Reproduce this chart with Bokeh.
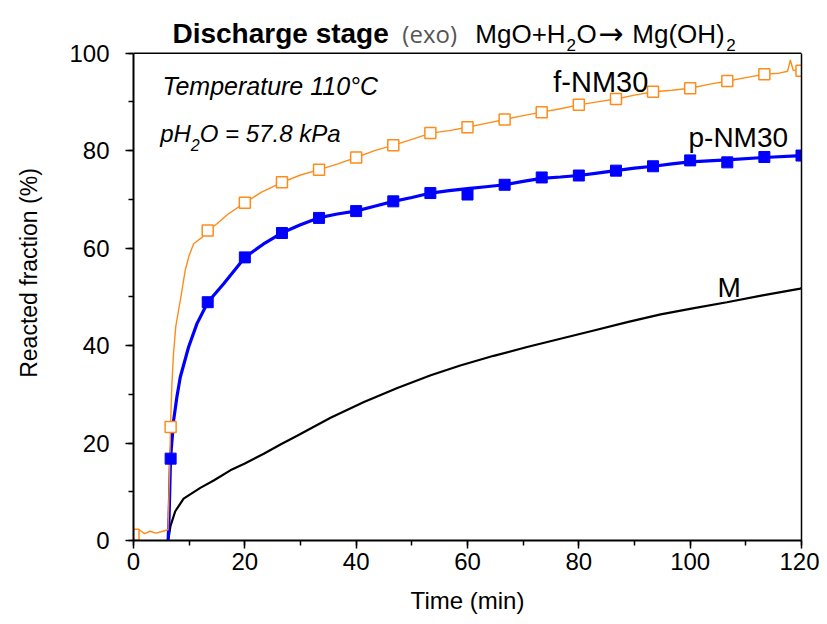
from bokeh.plotting import figure
from bokeh.models import Label, Range1d, SingleIntervalTicker, FixedTicker, LinearAxis, Span
from bokeh.embed import file_html
from bokeh.resources import INLINE

# ---- data ----
# f-NM30 (orange line)
f_t = [0, 1, 2, 3, 4, 5, 6.2, 6.5, 6.65, 6.9, 7.2, 7.6, 8.4, 9.3, 10.0, 10.8, 12.3, 13.35, 15, 17, 20,
       23, 26.7, 30, 33.4, 36.7, 40, 43.3, 46.6, 50, 53.4, 56.7, 60, 63.3, 66.7, 70, 73.3, 76.7, 80,
       83.3, 86.7, 90, 93.5, 96.7, 100, 103.3, 106.8, 110, 113.4, 116, 117.5, 118, 118.5, 120]
f_y = [1.5, 2.2, 1.4, 1.9, 1.5, 1.8, 2.2, 15, 23.3, 32.2, 38.5, 44.0, 49.2, 55.5, 58.5, 60.9, 62.2, 63.6, 65.0, 67.0, 69.3,
       71.5, 73.5, 75.0, 76.1, 77.3, 78.6, 80.0, 81.1, 82.3, 83.6, 84.1, 84.8, 85.6, 86.4, 87.2, 87.9, 88.6, 89.4,
       90.0, 90.6, 91.4, 92.1, 92.4, 92.8, 93.6, 94.3, 95.0, 95.7, 95.9, 96.3, 98.6, 96.5, 96.4]
# f-NM30 markers
fm_t = [0, 6.67, 13.33, 20, 26.67, 33.33, 40, 46.67, 53.33, 60, 66.67, 73.33, 80, 86.67, 93.33, 100, 106.67, 113.33, 120]
fm_y = [1.2, 23.3, 63.6, 69.3, 73.5, 76.1, 78.6, 81.1, 83.6, 84.8, 86.4, 87.9, 89.4, 90.6, 92.1, 92.8, 94.3, 95.7, 96.4]

# p-NM30 (blue line)
p_t = [0, 1, 2, 3, 4, 5, 6.2, 6.4, 6.65, 7.2, 7.8, 8.4, 9.9, 11.4, 13.35, 16.2, 20, 23.3, 26.6, 30, 33.2, 36.6,
       39.9, 43.3, 46.7, 50, 53.4, 56.7, 60, 63.3, 66.7, 70, 73.3, 76.7, 80, 83.3, 86.6, 90, 93.4, 96.7,
       100, 106.6, 113.2, 120]
p_y = [-0.6, -0.3, -0.7, -0.4, -0.6, -0.3, -0.5, 5.0, 16.8, 24.6, 29.5, 33.5, 39.7, 44.5, 48.9, 52.7, 58.1, 60.8, 63.1, 64.8, 66.2, 67.0,
       67.6, 68.6, 69.6, 70.4, 71.3, 71.8, 72.2, 72.6, 73.0, 73.7, 74.3, 74.6, 74.9, 75.4, 75.9, 76.4, 76.8, 77.3,
       77.7, 78.1, 78.6, 79.0]
pm_t = [0, 6.67, 13.33, 20, 26.67, 33.33, 40, 46.67, 53.33, 60, 66.67, 73.33, 80, 86.67, 93.33, 100, 106.67, 113.33, 120]
pm_y = [-0.8, 16.8, 48.9, 58.1, 63.1, 66.2, 67.6, 69.6, 71.3, 71.0, 73.0, 74.5, 74.9, 75.9, 76.8, 78.0, 77.6, 78.7, 79.0]

# M (black line)
m_t = [6.3, 6.65, 7.5, 9, 12, 14.4, 17.4, 20, 23.4, 26.4, 29.4, 35.4, 41.4, 47.4, 53.4, 58.7, 64.7, 70.7,
       76.7, 82.7, 88.7, 94.7, 100.7, 106.6, 113, 119.8, 120]
m_y = [0.5, 3.0, 6.0, 8.6, 10.8, 12.3, 14.4, 15.8, 17.8, 19.7, 21.5, 25.2, 28.4, 31.3, 33.9, 35.9, 37.9, 39.7,
       41.4, 43.1, 44.8, 46.4, 47.7, 48.9, 50.3, 51.7, 51.8]

x_ticks_interval = 20
y_ticks_interval = 20

FONT = "Liberation Sans"
PX_PER_UNIT = 4.873  # vertical scale of the reference

p = figure(width=819, height=622, output_backend="svg", toolbar_location=None,
           x_range=Range1d(0, 120), y_range=Range1d(0, 535 / PX_PER_UNIT),
           min_border_left=133, min_border_right=18, min_border_top=5, min_border_bottom=82)

p.grid.visible = False
p.outline_line_color = None
p.background_fill_color = "white"
p.border_fill_color = "white"

p.xaxis.ticker = SingleIntervalTicker(interval=x_ticks_interval, num_minor_ticks=2)
p.yaxis.ticker = SingleIntervalTicker(interval=y_ticks_interval, num_minor_ticks=2)
p.yaxis.bounds = (0, 100)
for ax in (p.xaxis[0], p.yaxis[0]):
    ax.axis_line_width = 2
    ax.axis_line_color = "black"
    ax.major_tick_in = 0
    ax.major_tick_out = 8
    ax.minor_tick_in = 0
    ax.minor_tick_out = 5
    ax.major_tick_line_width = 1.5
    ax.minor_tick_line_width = 1.5
    ax.major_label_text_font = FONT
    ax.major_label_text_font_size = "24px"
    ax.major_label_text_color = "black"
    ax.axis_label_text_font = FONT
    ax.axis_label_text_font_style = "normal"
    ax.axis_label_text_color = "black"

p.xaxis.axis_label = "Time (min)"
p.yaxis.axis_label = "Reacted fraction (%)"
p.xaxis.axis_label_text_font_size = "24px"
p.yaxis.axis_label_text_font_size = "23px"
p.xaxis.major_label_standoff = 4
p.xaxis.axis_label_standoff = 14
p.yaxis.major_label_standoff = 16
p.yaxis.axis_label_standoff = 24

# frame: right border (axis line only up to 100) and top border
right = LinearAxis(bounds=(0, 100), ticker=FixedTicker(ticks=[]), axis_line_width=1.5,
                   major_tick_out=0, minor_tick_out=0, major_tick_in=0, minor_tick_in=0)
p.add_layout(right, "right")
p.add_layout(Span(location=100, dimension="width", line_color="black", line_width=1.5))

# lines
p.line(m_t, m_y, line_color="black", line_width=2.2)
p.line(p_t, p_y, line_color="#0000ff", line_width=3.2)
p.line(f_t, f_y, line_color="#ff8c1a", line_width=1.4)

# markers
p.scatter(pm_t, pm_y, marker="square", size=11, fill_color="#0000ff", line_color="#0000ff")
p.scatter(fm_t, fm_y, marker="square", size=11, fill_color="white", line_color="#ff8c1a", line_width=1.5)

def lab(x, y, text, size, style="normal", font=FONT, color="black"):
    p.add_layout(Label(x=x, y=y, text=text, text_font=font, text_font_size=size,
                       text_font_style=style, text_color=color,
                       text_align="left", text_baseline="alphabetic"))

# title pieces
lab(7.0, 104.0, "Discharge stage", "28px", "bold")
lab(48.3, 104.0, "(exo)", "24px", font="Open Sans", color="#555555")
lab(61.4, 104.0, "MgO+H", "26px")
lab(77.8, 101.6, "2", "17px")
lab(79.6, 104.0, "O", "26px")
lab(83.5, 104.0, "\u2192", "30px", font="DejaVu Sans")
lab(89.6, 104.0, "Mg(OH)", "26px")
lab(106.5, 101.6, "2", "17px")

# annotations
lab(5.2, 93.2, "Temperature 110\u00b0C", "25px", "italic")
lab(4.8, 83.5, "pH", "24px", "italic")
lab(10.3, 81.1, "2", "16px", "italic")
lab(11.9, 83.5, "O = 57.8 kPa", "24px", "italic")

# series labels
lab(75.4, 94.0, "f-NM30", "29px")
lab(99.7, 82.6, "p-NM30", "28px")
lab(104.9, 51.9, "M", "28px")

open("out.html", "w").write(file_html(p, INLINE))
